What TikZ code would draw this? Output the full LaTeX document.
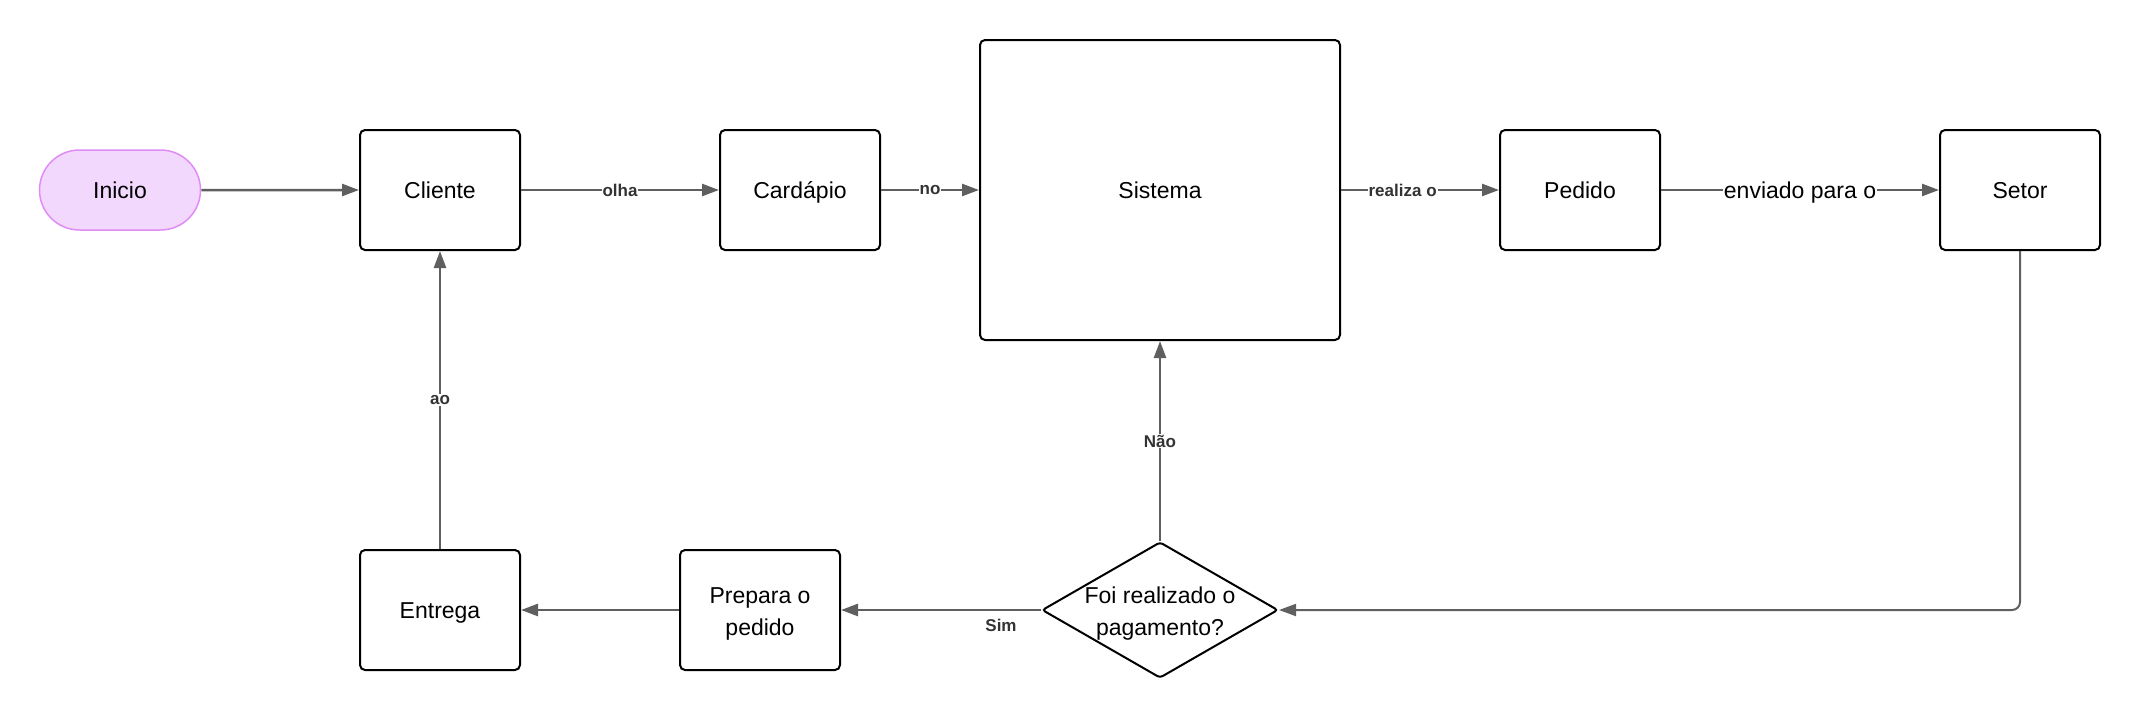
\documentclass[tikz,border=0pt]{standalone}
\usepackage{fontspec}
\setmainfont{Liberation Sans}
\usetikzlibrary{arrows.meta,shapes.misc,shapes.geometric}
\definecolor{lnk}{RGB}{95,95,95}
\definecolor{startfill}{RGB}{243,216,253}
\definecolor{startdraw}{RGB}{224,140,245}
\definecolor{lbl}{RGB}{51,51,51}
\begin{document}
\begin{tikzpicture}[x=1pt,y=-1pt,
  txt/.style={font=\fontsize{23}{32}\selectfont},
  one/.style={text height=16pt, text depth=0pt},
  box/.style={txt, draw=black, line width=2pt, rounded corners=5pt, minimum width=160pt, minimum height=120pt, inner sep=0pt, align=center},
  conn/.style={draw=lnk, line width=2.5pt, -{Triangle[length=17pt,width=12pt]}},
  lab/.style={fill=white, inner sep=1pt, text=lbl, font=\bfseries\fontsize{17}{18}\selectfont},
]
\useasboundingbox (0,0) rectangle (2140,720);
\node[txt, one, rounded rectangle, fill=startfill, draw=startdraw, line width=1.5pt, minimum width=161pt, minimum height=80pt, inner sep=0pt] (inicio) at (120,190) {Inicio};
\node[box, one] (cliente) at (440,190) {Cliente};
\node[box, one] (cardapio) at (800,190) {Cardápio};
\node[box, one, minimum width=360pt, minimum height=300pt] (sistema) at (1160,190) {Sistema};
\node[box, one] (pedido) at (1580,190) {Pedido};
\node[box, one] (setor) at (2020,190) {Setor};
\node[box, one] (entrega) at (440,610) {Entrega};
\node[box] (prepara) at (760,610) {};
\node[txt, align=center] (preparatext) at ([yshift=-4pt]prepara.center) {Prepara o\\pedido};
\node[diamond, draw=black, line width=2pt, rounded corners=3pt, minimum width=236pt, minimum height=136pt, inner sep=0pt, aspect=1.735] (dec) at (1160,610) {};
\node[txt, align=center] (dectext) at ([yshift=-4pt]dec.center) {Foi realizado o\\pagamento?};

\draw[conn] (inicio) -- (cliente);
\draw[conn] (cliente) -- node[lab]{olha} (cardapio);
\draw[conn] (cardapio) -- node[lab]{no} (sistema);
\draw[conn] (sistema) -- node[lab, pos=0.39]{realiza o} (pedido);
\draw[conn] (pedido) -- node[txt, one, fill=white, inner sep=1pt]{enviado para o} (setor);
\draw[conn, line width=2pt, rounded corners=8pt] (setor.south) |- (dec.east);
\draw[conn] (dec.north) -- node[lab]{Não} (sistema.south);
\draw[conn] (dec.west) -- node[lab, fill=none, pos=0.2, yshift=-15pt]{Sim} (prepara.east);
\draw[conn] (prepara) -- (entrega);
\draw[conn] (entrega) -- node[lab]{ao} (cliente);
\end{tikzpicture}
\end{document}
